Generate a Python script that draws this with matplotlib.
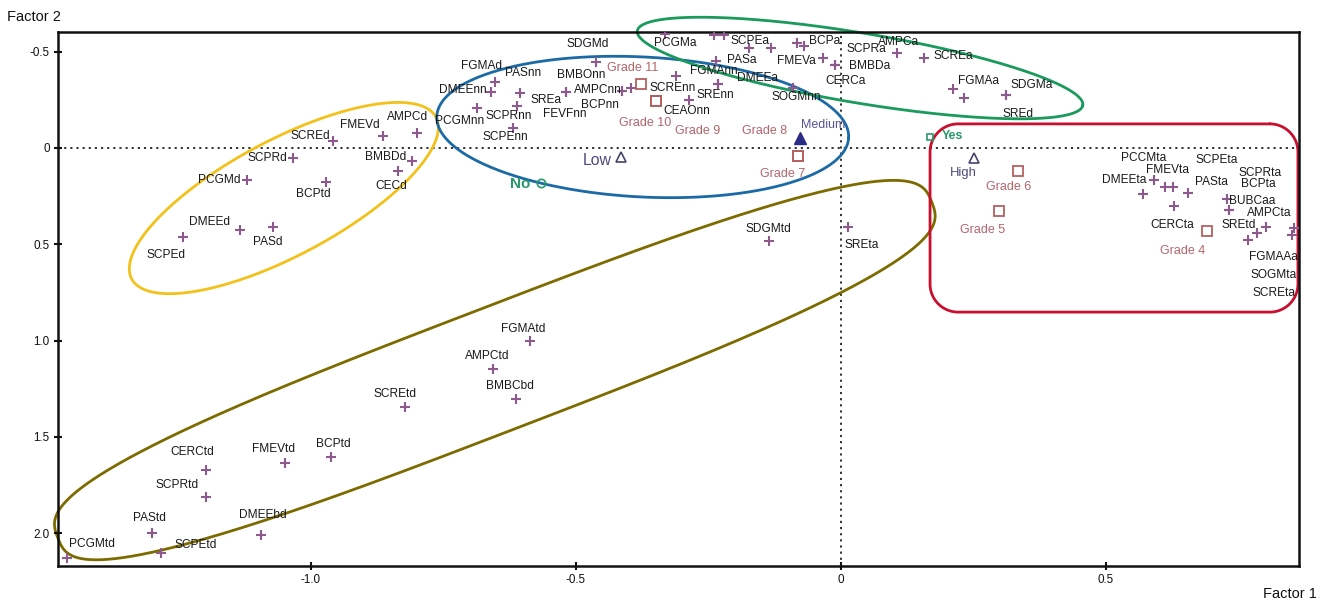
import numpy as np
import matplotlib
matplotlib.use("Agg")
import matplotlib.pyplot as plt

plt.rcParams['font.family'] = ['Liberation Sans', 'DejaVu Sans']
plt.rcParams['axes.unicode_minus'] = False

# ---------------- data ----------------
var_names = ["SCREd", "FMEVd", "AMPCd", "SCPRd", "BMBDd", "CECd", "PCGMd", "BCPtd",
             "DMEEd", "PASd", "SCPEd",
             "PCGMtd", "PAStd", "SCPEtd", "SCPRtd", "CERCtd", "FMEVtd", "BCPtd", "DMEEbd",
             "SCREtd", "FGMAtd", "AMPCtd", "BMBCbd", "SDGMtd", "SREta",
             "SDGMd", "FGMAd", "PASnn", "DMEEnn", "PCGMnn", "SCPRnn", "SCPEnn", "SREa",
             "FEVFnn", "BMBOnn", "AMPCnn", "BCPnn", "SCREnn", "CEAOnn", "FGMAnn", "SREnn",
             "SOGMnn", "DMEEa",
             "PCGMa", "", "", "SCPEa", "", "PASa", "", "BCPa", "FMEVa", "BMBDa", "SCPRa",
             "CERCa", "AMPCa", "SCREa", "FGMAa", "", "SDGMa", "SREd",
             "PCCMta", "DMEEta", "FMEVta", "SCPEta", "PASta", "CERCta", "BUBCaa", "SCPRta",
             "BCPta", "AMPCta", "SREtd", "FGMAAa", "SOGMta", "SCREta"]
var_x = [-0.958, -0.864, -0.800, -1.034, -0.809, -0.836, -1.121, -0.972,
         -1.134, -1.072, -1.242,
         -1.460, -1.300, -1.283, -1.198, -1.198, -1.049, -0.962, -1.094,
         -0.823, -0.587, -0.657, -0.613, -0.136, 0.013,
         -0.462, -0.653, -0.606, -0.660, -0.687, -0.611, -0.619, -0.519,
         -0.519, -0.396, -0.413, -0.413, -0.311, -0.287, -0.232, -0.232,
         -0.091, -0.091,
         -0.332, -0.240, -0.221, -0.174, -0.132, -0.236, -0.083, -0.070, -0.034, -0.011, -0.011,
         -0.011, 0.106, 0.157, 0.211, 0.232, 0.311, 0.311,
         0.591, 0.570, 0.611, 0.626, 0.655, 0.628, 0.728, 0.732,
         0.732, 0.802, 0.785, 0.768, 0.851, 0.855]
var_y = [-0.036, -0.062, -0.078, 0.052, 0.067, 0.119, 0.166, 0.177,
         0.426, 0.410, 0.462,
         2.129, 1.999, 2.103, 1.812, 1.672, 1.636, 1.604, 2.009,
         1.345, 1.002, 1.147, 1.303, 0.483, 0.410,
         -0.447, -0.343, -0.286, -0.291, -0.208, -0.218, -0.104, -0.291,
         -0.291, -0.312, -0.296, -0.296, -0.374, -0.249, -0.332, -0.332,
         -0.312, -0.312,
         -0.592, -0.587, -0.587, -0.519, -0.519, -0.452, -0.545, -0.530, -0.467, -0.431, -0.431,
         -0.431, -0.493, -0.467, -0.306, -0.260, -0.275, -0.275,
         0.166, 0.239, 0.202, 0.202, 0.234, 0.301, 0.265, 0.322,
         0.322, 0.410, 0.441, 0.478, 0.452, 0.415]

grade_names = ["Grade 11", "Grade 10", "Grade 9", "Grade 8", "Grade 7", "Grade 6", "Grade 5", "Grade 4"]
grade_x = [-0.377, -0.349, -0.349, -0.081, -0.081, 0.334, 0.298, 0.691]
grade_y = [-0.332, -0.244, -0.244, 0.042, 0.042, 0.119, 0.327, 0.431]

level_names = ["Low", "Medium", "High"]
level_x = [-0.415, -0.077, 0.251]
level_y = [0.047, -0.052, 0.052]

yn_names = ["No", "Yes"]
yn_x = [-0.566, 0.168]
yn_y = [0.182, -0.057]

x_ticks = [-1.0, -0.5, 0.0, 0.5]
y_ticks = [-0.5, 0.0, 0.5, 1.0, 1.5, 2.0]

# ---------------- label placement (pixel offsets: right, down) ----------------
var_off = [(-23, -5), (-23, -11), (-9, -16), (-25, 0), (-26, -4), (-7, 15), (-27, 0), (-12, 12),
           (-30, -8), (-5, 15), (-17, 18),
           (25, -14), (-2, -15), (35, -8), (-29, -12), (-14, -18), (-11, -14), (2, -13), (2, -20),
           (-10, -13), (-7, -12), (-5, -13), (-6, -13), (-1, -12), (14, 18),
           (-8, -18), (-13, -16), (3, -20), (-28, -2), (-17, 13), (-8, 10), (-8, 9), (-20, 8),
           (-1, 22), (-50, -13), (-24, -1), (-22, 14), (-3, 12), (-2, 11), (-4, -13), (-3, 11),
           (4, 9), (-35, -10),
           (10, 9), (0, 0), (0, 0), (1, -7), (0, 0), (26, -1), (0, 0), (21, -5), (-27, 3), (34, 1),
           (31, -16), (10, 16), (1, -11), (29, -2), (26, -8), (0, 0), (26, -10), (12, 19),
           (-11, -22), (-19, -14), (3, -17), (44, -27), (23, -11), (-2, 19), (25, 2), (31, -37),
           (29, -26), (3, -14), (-18, -8), (25, 17), (-18, 40), (-20, 65)]
grade_off = [(-8, -16), (-11, 22), (42, 30), (-33, -25), (-15, 18), (-9, 16), (-16, 19), (-25, 20)]
level_off = [(-24, 3), (23, -13), (-11, 15)]
yn_off = [(-21, 1), (22, -1)]

# ---------------- figure ----------------
W, H = 1325, 610
fig = plt.figure(figsize=(W / 100, H / 100), dpi=100)
ax_l, ax_r, ax_t, ax_b = 58, 1299, 32, 566
ax = fig.add_axes([ax_l / W, 1 - ax_b / H, (ax_r - ax_l) / W, (ax_b - ax_t) / H])
xlim = (-1.477, 0.864)
ylim = (2.170, -0.602)
ax.set_xlim(*xlim)
ax.set_ylim(*ylim)

# pixel-per-unit ratio so the outlines keep their on-screen shape
px_per_x = (ax_r - ax_l) / (xlim[1] - xlim[0])
px_per_y = (ax_b - ax_t) / (ylim[0] - ylim[1])
K = px_per_x / px_per_y


def outline(cx, cy, a, b, ang, n=2.0):
    t = np.linspace(0, 2 * np.pi, 600)
    c, s = np.cos(t), np.sin(t)
    u = a * np.sign(c) * np.abs(c) ** (2 / n)
    v = b * np.sign(s) * np.abs(s) ** (2 / n)
    th = np.deg2rad(ang)
    uu = u * np.cos(th) - v * np.sin(th)
    vv = u * np.sin(th) + v * np.cos(th)
    return cx + uu, cy + vv * K


def rounded_rect(x0, x1, y0, y1, r):
    v0, v1 = y0 / K, y1 / K
    pts = []
    corners = [(x1 - r, v0 + r, -90, 0), (x1 - r, v1 - r, 0, 90),
               (x0 + r, v1 - r, 90, 180), (x0 + r, v0 + r, 180, 270)]
    for cxr, cvr, a0, a1 in corners:
        tt = np.deg2rad(np.linspace(a0, a1, 30))
        for q in tt:
            pts.append((cxr + r * np.cos(q), cvr + r * np.sin(q)))
    pts.append(pts[0])
    pts = np.array(pts)
    return pts[:, 0], pts[:, 1] * K


shape_kw = dict(lw=2.0, clip_on=False, zorder=1, solid_capstyle='round')
ax.plot(*outline(-1.051, 0.260, 0.325, 0.109, -28), color='#f2c21b', **shape_kw)
ax.plot(*outline(-0.374, -0.109, 0.389, 0.132, 3), color='#1b6aa5', **shape_kw)
ax.plot(*outline(0.036, -0.415, 0.426, 0.066, 9.5), color='#1a9a5c', **shape_kw)
ax.plot(*outline(-0.653, 1.153, 0.883, 0.117, -21, n=3), color='#7d6b00', **shape_kw)
ax.plot(*rounded_rect(0.168, 0.862, -0.125, 0.852, 0.053), color='#c8102e', **shape_kw)

# reference lines
ax.axhline(0, color='#222222', lw=1.3, ls=(0, (1.2, 2.2)), zorder=0.5)
ax.axvline(0, color='#222222', lw=1.3, ls=(0, (1.2, 2.2)), zorder=0.5)

# markers
ax.plot(var_x, var_y, ls='none', marker='+', ms=7.5, mew=1.5, color='#8c5a8c', zorder=3)
ax.plot(grade_x, grade_y, ls='none', marker='s', ms=7, mew=1.3, mfc='none',
        mec='#b5605f', zorder=3)
ax.plot([level_x[0], level_x[2]], [level_y[0], level_y[2]], ls='none', marker='^', ms=7.5,
        mew=1.2, mfc='none', mec='#44446a', zorder=3)
ax.plot([level_x[1]], [level_y[1]], ls='none', marker='^', ms=8.5, color='#2b2b85', zorder=3)
ax.plot([yn_x[0]], [yn_y[0]], ls='none', marker='o', ms=6, mew=1.2, mfc='none',
        mec='#2a9a6a', zorder=3)
ax.plot([yn_x[1]], [yn_y[1]], ls='none', marker='s', ms=5, mew=1.2, mfc='none',
        mec='#2a9a6a', zorder=3)


def put(names, xs, ys, offs, **kw):
    for nm, x, y, (dx, dy) in zip(names, xs, ys, offs):
        if nm:
            ax.annotate(nm, (x, y), xytext=(dx, -dy), textcoords='offset pixels',
                        ha='center', va='center', zorder=4, annotation_clip=False, **kw)


put(var_names, var_x, var_y, var_off, fontsize=8.6, color='#1a1a1a')
put(grade_names, grade_x, grade_y, grade_off, fontsize=9, color='#b5646a')
put(level_names[:1], level_x[:1], level_y[:1], level_off[:1], fontsize=11.4, color='#4b4b7d')
put(level_names[1:2], level_x[1:2], level_y[1:2], level_off[1:2], fontsize=9, color='#55559a')
put(level_names[2:], level_x[2:], level_y[2:], level_off[2:], fontsize=9.4, color='#4b4b7d')
put(yn_names[:1], yn_x[:1], yn_y[:1], yn_off[:1], fontsize=11, color='#2a9a6a', fontweight='bold')
put(yn_names[1:], yn_x[1:], yn_y[1:], yn_off[1:], fontsize=9, color='#2a9a6a', fontweight='bold')

# axes styling
for sp in ax.spines.values():
    sp.set_linewidth(1.8)
    sp.set_color('#111111')
ax.set_xticks(x_ticks)
ax.set_yticks(y_ticks)
fmt = lambda v: '0' if abs(v) < 1e-9 else f'{v:.1f}'
ax.set_xticklabels([fmt(v) for v in x_ticks])
ax.set_yticklabels([fmt(v) for v in y_ticks])
ax.tick_params(direction='inout', length=6, width=1.5, labelsize=8.4, pad=3, colors='#111111')

fig.text(7 / W, 1 - 17 / H, 'Factor 2', ha='left', va='center', fontsize=10.5, color='#111111')
fig.text(1317 / W, 1 - 594 / H, 'Factor 1', ha='right', va='center', fontsize=10.5, color='#111111')

fig.savefig('out.png', dpi=100, facecolor='white')
